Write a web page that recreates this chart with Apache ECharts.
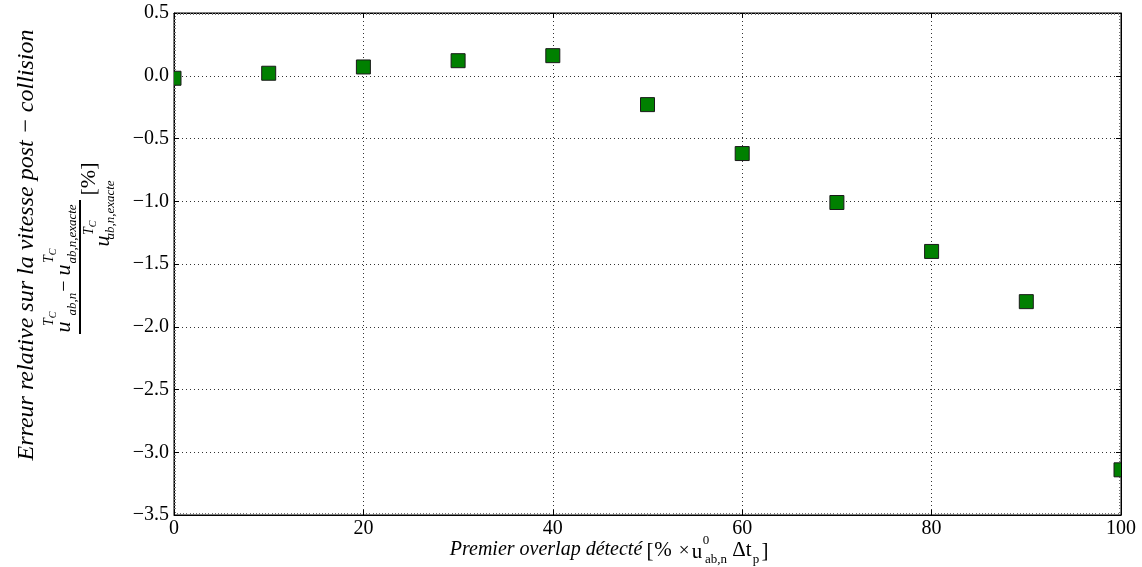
<!DOCTYPE html>
<html>
<head>
<meta charset="utf-8">
<script src="https://cdn.jsdelivr.net/npm/echarts@6/dist/echarts.min.js"></script>
<style>
html,body{margin:0;padding:0;background:#fff;}
#chart{width:1142px;height:567px;}
</style>
</head>
<body>
<div id="chart"></div>
<script>
// ---- data ----
const xValues = [0, 10, 20, 30, 40, 50, 60, 70, 80, 90, 100];
const yValues = [-0.02, 0.02, 0.07, 0.12, 0.16, -0.23, -0.62, -1.01, -1.40, -1.80, -3.14];
const xTicks = [0, 20, 40, 60, 80, 100];
const yTicks = [0.5, 0.0, -0.5, -1.0, -1.5, -2.0, -2.5, -3.0, -3.5];

const SERIF = "'Liberation Serif', 'DejaVu Serif', serif";
const fmtY = v => (v < 0 ? '\u2212' : '') + Math.abs(v).toFixed(1);

const chart = echarts.init(document.getElementById('chart'), null, {renderer: 'canvas'});

const gridLine = {show: true, lineStyle: {color: '#333', width: 1, type: [1, 3]}};
const minorTickX = {show: true, splitNumber: 60, length: 2, lineStyle: {color: '#777', width: 1}};
const minorTickY = {show: true, splitNumber: 20, length: 2, lineStyle: {color: '#777', width: 1}};

function rt(text, x, y, size, italic, rot) {
  return {
    type: 'text', x: x, y: y, rotation: rot ? Math.PI / 2 : 0, z: 100,
    style: {text: text, fill: '#000', font: (italic ? 'italic ' : '') + size + 'px ' + SERIF,
      align: 'center', verticalAlign: 'middle'}
  };
}

const data = xValues.map((x, i) => [x, yValues[i]]);

const graphics = [
  // y-axis title (rotated)
  rt('Erreur relative sur la vitesse post \u2212 collision', 27, 245, 24, true, true),
  // numerator
  rt('u', 64, 327, 22, true, true),
  rt('T', 49, 322, 14, true, true),
  rt('C', 53, 315, 10, true, true),
  rt('ab,n', 73, 304, 13, true, true),
  rt('\u2212', 65, 286, 20, false, true),
  rt('u', 64, 270, 22, true, true),
  rt('T', 49, 259, 14, true, true),
  rt('C', 53, 252, 10, true, true),
  rt('ab,n,exacte', 73, 234, 13, true, true),
  // fraction bar
  {type: 'line', z: 100, shape: {x1: 80, y1: 200, x2: 80, y2: 334}, style: {stroke: '#000', lineWidth: 2}},
  // denominator
  rt('u', 103, 241, 22, true, true),
  rt('T', 89, 231, 14, true, true),
  rt('C', 93, 224, 10, true, true),
  rt('ab,n,exacte', 111, 210, 13, true, true),
  rt('[%]', 89, 179, 22, false, true),
  // x-axis title
  rt('Premier overlap d\u00e9tect\u00e9', 546, 550, 20, true, false),
  rt('[', 650, 551, 21, false, false),
  rt('%', 663, 550, 21, false, false),
  rt('\u00d7', 684, 551, 19, false, false),
  rt('u', 697, 552, 21, false, false),
  rt('0', 706, 541, 13, false, false),
  rt('ab,n', 716, 560, 13, false, false),
  rt('\u0394t', 742, 550, 21, false, false),
  rt('p', 756, 560, 13, false, false),
  rt(']', 765, 551, 21, false, false)
];

chart.setOption({
  backgroundColor: '#fff',
  animation: false,
  grid: {left: 174, right: 21, top: 13, bottom: 52, show: true, borderColor: '#000', borderWidth: 1},
  xAxis: [{
    type: 'value', min: 0, max: 100, interval: 20, position: 'bottom',
    axisLine: {show: true, onZero: false, lineStyle: {color: '#000', width: 1}},
    axisTick: {show: true, inside: true, length: 5, lineStyle: {color: '#000'}},
    minorTick: minorTickX,
    axisLabel: {color: '#000', fontFamily: SERIF, fontSize: 20, margin: 4},
    splitLine: gridLine
  }, {
    type: 'value', min: 0, max: 100, interval: 20, position: 'top',
    axisLine: {show: true, onZero: false, lineStyle: {color: '#000', width: 1}},
    axisTick: {show: true, inside: true, length: 5, lineStyle: {color: '#000'}},
    minorTick: minorTickX,
    axisLabel: {show: false}, splitLine: {show: false}
  }],
  yAxis: [{
    type: 'value', min: -3.5, max: 0.5, interval: 0.5, position: 'left',
    axisLine: {show: true, onZero: false, lineStyle: {color: '#000', width: 1}},
    axisTick: {show: true, inside: true, length: 5, lineStyle: {color: '#000'}},
    minorTick: minorTickY,
    axisLabel: {color: '#000', fontFamily: SERIF, fontSize: 20, margin: 5, formatter: fmtY},
    splitLine: gridLine
  }, {
    type: 'value', min: -3.5, max: 0.5, interval: 0.5, position: 'right',
    axisLine: {show: true, onZero: false, lineStyle: {color: '#000', width: 1}},
    axisTick: {show: true, inside: true, length: 5, lineStyle: {color: '#000'}},
    minorTick: minorTickY,
    axisLabel: {show: false}, splitLine: {show: false}
  }],
  series: [{
    type: 'custom',
    clip: true,
    xAxisIndex: 0, yAxisIndex: 0,
    data: data,
    renderItem: function (params, api) {
      const p = api.coord([api.value(0), api.value(1)]);
      const s = 14;
      return {
        type: 'rect',
        shape: {x: p[0] - s / 2, y: p[1] - s / 2, width: s, height: s},
        style: {fill: '#008000', stroke: '#1a1a1a', lineWidth: 1}
      };
    },
    z: 10
  }],
  graphic: graphics
});
</script>
</body>
</html>
